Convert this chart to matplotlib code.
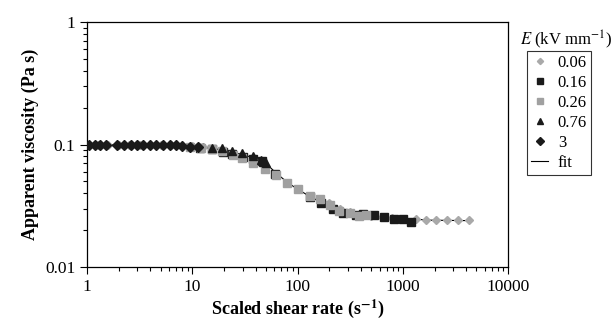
import numpy as np
import matplotlib
matplotlib.use('Agg')
import matplotlib.pyplot as plt
from matplotlib.ticker import LogLocator, FixedLocator, FixedFormatter, NullFormatter

plt.rcParams['font.family'] = 'Liberation Serif'
plt.rcParams['mathtext.fontset'] = 'stix'

# ---- data ----------------------------------------------------------------
# E = 0.06 kV/mm (light grey diamonds)
x_006 = [1.0, 1.26, 1.58, 2.0, 2.51, 3.16, 3.98, 5.01, 6.31, 7.94, 10.0, 12.6,
         200, 251, 316, 398, 501, 631, 794, 1000,
         1330, 1656, 2062, 2625, 3340, 4250]
y_006 = [0.100, 0.100, 0.100, 0.100, 0.100, 0.100, 0.100, 0.100, 0.099,
         0.098, 0.097, 0.095,
         0.0330, 0.0300, 0.0280, 0.0268, 0.0260, 0.0255, 0.0250, 0.0248,
         0.0245, 0.0242, 0.0241, 0.0241, 0.0241, 0.0240]

# E = 0.16 kV/mm (black squares)
x_016 = [11.9, 15.5, 19.7, 24.0, 30.5, 38.1, 46.3, 61.6, 130, 166, 215, 268,
         355, 417, 530, 658, 822, 1000, 1190]
y_016 = [0.0928, 0.0911, 0.0861, 0.0829, 0.0784, 0.0755, 0.0727, 0.0570,
         0.0371, 0.0332, 0.0296, 0.0275, 0.0265, 0.0270, 0.0265, 0.0255,
         0.0246, 0.0246, 0.0232]

# E = 0.26 kV/mm (grey squares)
x_026 = [9.6, 12.2, 15.5, 19.3, 24.6, 29.9, 38.1, 48.7, 63, 80, 100, 130,
         162, 201, 245, 317, 380, 443]
y_026 = [0.0963, 0.0945, 0.0911, 0.0877, 0.0814, 0.0769, 0.0701, 0.0626,
         0.0560, 0.0482, 0.0431, 0.0378, 0.0357, 0.0319, 0.0285, 0.0275,
         0.0260, 0.0265]

# E = 0.76 kV/mm (black triangles)
x_076 = [15.5, 19.3, 24.0, 29.9, 38.1, 44.5, 47.0, 49.6]
y_076 = [0.0945, 0.0945, 0.0877, 0.0845, 0.0799, 0.0741, 0.0725, 0.0700]

# E = 3 kV/mm (black diamonds)
x_3 = [1.04, 1.19, 1.33, 1.52, 1.93, 2.25, 2.62, 2.99, 3.41, 3.98, 4.54,
       5.29, 6.17, 7.04, 8.03, 9.57, 11.2]
y_3 = [0.100, 0.100, 0.100, 0.100, 0.100, 0.100, 0.100, 0.100, 0.100,
       0.100, 0.0995, 0.0995, 0.099, 0.099, 0.098, 0.096, 0.095]

# fitted curve
x_fit = [1, 4, 9.6, 14.9, 23, 32, 40, 50, 63, 80, 100, 130, 166, 206, 256,
         355, 530, 840, 1220, 1850, 4260]
y_fit = [0.100, 0.0991, 0.0963, 0.0937, 0.0877, 0.0814, 0.0769, 0.0701,
         0.0581, 0.0491, 0.0431, 0.0378, 0.0338, 0.0313, 0.0291, 0.0270,
         0.0260, 0.0250, 0.0246, 0.0241, 0.0239]

x_ticks = [1, 10, 100, 1000, 10000]
x_tick_labels = ['1', '10', '100', '1000', '10000']
y_ticks = [0.01, 0.1, 1]
y_tick_labels = ['0.01', '0.1', '1']

# ---- plot ----------------------------------------------------------------
fig = plt.figure(figsize=(6.13, 3.24), dpi=100)
ax = fig.add_axes([0.142, 0.176, 0.687, 0.756])

ax.plot(x_fit, y_fit, color='k', lw=0.8, label='fit', zorder=1)
ax.plot(x_006, y_006, ls='none', marker='D', ms=4.2, color='#a9a9a9',
        label='0.06', zorder=2)
ax.plot(x_016, y_016, ls='none', marker='s', ms=5.2, color='#1a1a1a',
        label='0.16', zorder=3)
ax.plot(x_026, y_026, ls='none', marker='s', ms=5.5, color='#a0a0a0',
        label='0.26', zorder=4)
ax.plot(x_076, y_076, ls='none', marker='^', ms=6, color='#1a1a1a',
        label='0.76', zorder=5)
ax.plot(x_3, y_3, ls='none', marker='D', ms=5.5, color='#1a1a1a',
        label='3', zorder=6)

ax.set_xscale('log')
ax.set_yscale('log')
ax.set_xlim(1, 10000)
ax.set_ylim(0.01, 1)

ax.xaxis.set_major_locator(FixedLocator(x_ticks))
ax.xaxis.set_major_formatter(FixedFormatter(x_tick_labels))
ax.xaxis.set_minor_locator(LogLocator(base=10, subs=np.arange(2, 10)))
ax.xaxis.set_minor_formatter(NullFormatter())
ax.yaxis.set_major_locator(FixedLocator(y_ticks))
ax.yaxis.set_major_formatter(FixedFormatter(y_tick_labels))
ax.yaxis.set_minor_locator(LogLocator(base=10, subs=np.arange(2, 10)))
ax.yaxis.set_minor_formatter(NullFormatter())

ax.tick_params(which='both', direction='out', labelsize=12.5, width=0.8,
               top=False, right=False)
ax.tick_params(which='major', length=5)
ax.tick_params(which='minor', length=3)
for sp in ax.spines.values():
    sp.set_linewidth(0.9)

ax.set_xlabel(r'Scaled shear rate (s$^{\mathbf{-1}}$)', fontsize=13,
              fontweight='bold', labelpad=2)
ax.set_ylabel('Apparent viscosity (Pa s)', fontsize=13,
              fontweight='bold', labelpad=4)

# legend box with its title set above the frame
handles, labels = ax.get_legend_handles_labels()
order = [1, 2, 3, 4, 5, 0]
leg = fig.legend([handles[i] for i in order], [labels[i] for i in order],
                 loc='upper left', bbox_to_anchor=(527 / 613, 1 - 51 / 324),
                 fontsize=12, fancybox=False, edgecolor='k',
                 handlelength=1.0, handletextpad=0.6, borderpad=0.25,
                 labelspacing=0.24, markerscale=0.75, borderaxespad=0)
leg.get_frame().set_linewidth(0.8)
fig.text(566 / 613, 1 - 40 / 324, r'$\it{E}$ (kV mm$^{-1}$)', fontsize=12,
         ha='center', va='center')

fig.savefig('out.png', dpi=100)
